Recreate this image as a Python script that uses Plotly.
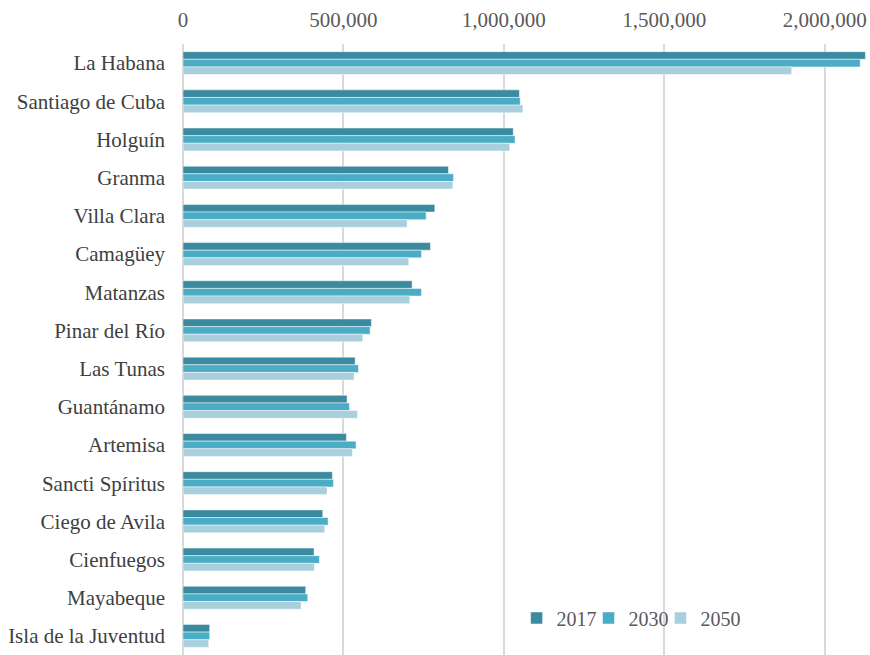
import plotly.graph_objects as go

provinces = ["La Habana", "Santiago de Cuba", "Holguín", "Granma", "Villa Clara",
             "Camagüey", "Matanzas", "Pinar del Río", "Las Tunas", "Guantánamo",
             "Artemisa", "Sancti Spíritus", "Ciego de Avila", "Cienfuegos",
             "Mayabeque", "Isla de la Juventud"]

pop_2017 = [2127000, 1048500, 1029300, 827400, 784800, 771300, 714100, 587300,
            536400, 511400, 509400, 465700, 435600, 408500, 382500, 83200]
pop_2030 = [2110600, 1051200, 1034800, 843000, 757800, 743200, 743200, 583200,
            546800, 518700, 539500, 468800, 452200, 425200, 388800, 83200]
pop_2050 = [1897000, 1059400, 1018300, 841000, 698500, 703700, 706900, 560300,
            533300, 543700, 528100, 449100, 441800, 409600, 368000, 80000]

series = [("2017", pop_2017, "#3C8AA0", "legend"),
          ("2030", pop_2030, "#4BACC6", "legend2"),
          ("2050", pop_2050, "#A9CEDC", "legend3")]

tick_vals = [0, 500000, 1000000, 1500000, 2000000]
tick_text = ["0", "500,000", "1,000,000", "1,500,000", "2,000,000"]

fig = go.Figure()
for name, vals, color, leg in series:
    fig.add_trace(go.Bar(
        y=provinces, x=vals, name=name, orientation="h", legend=leg,
        marker=dict(color=color, line=dict(color="rgba(255,255,255,0.6)", width=0.8)),
    ))

font_family = "Liberation Serif"
legend_font = dict(family=font_family, size=20, color="#595959")
leg_common = dict(orientation="h", y=0.0606, xanchor="left", yanchor="middle",
                  bgcolor="rgba(0,0,0,0)", font=legend_font, itemwidth=30)

fig.update_layout(
    width=870, height=655,
    margin=dict(l=183, r=2, t=44, b=0),
    paper_bgcolor="white", plot_bgcolor="white",
    barmode="group", bargap=0.4, bargroupgap=0,
    font=dict(family=font_family, size=21, color="#595959"),
    showlegend=True,
    legend=dict(x=0.487, **leg_common),
    legend2=dict(x=0.592, **leg_common),
    legend3=dict(x=0.697, **leg_common),
    xaxis=dict(side="top", range=[0, 2135000], tickvals=tick_vals, ticktext=tick_text,
               showgrid=True, gridcolor="#D9D9D9", gridwidth=1.5,
               zeroline=True, zerolinecolor="#D9D9D9", zerolinewidth=1.5,
               showline=False, ticks="outside", ticklen=8, tickcolor="rgba(0,0,0,0)",
               tickfont=dict(family=font_family, size=21, color="#595959")),
    yaxis=dict(autorange="reversed", showgrid=False, showline=False, ticks="",
               ticklabelstandoff=17,
               tickfont=dict(family=font_family, size=21, color="#404040")),
)

fig.write_html("out.html")
